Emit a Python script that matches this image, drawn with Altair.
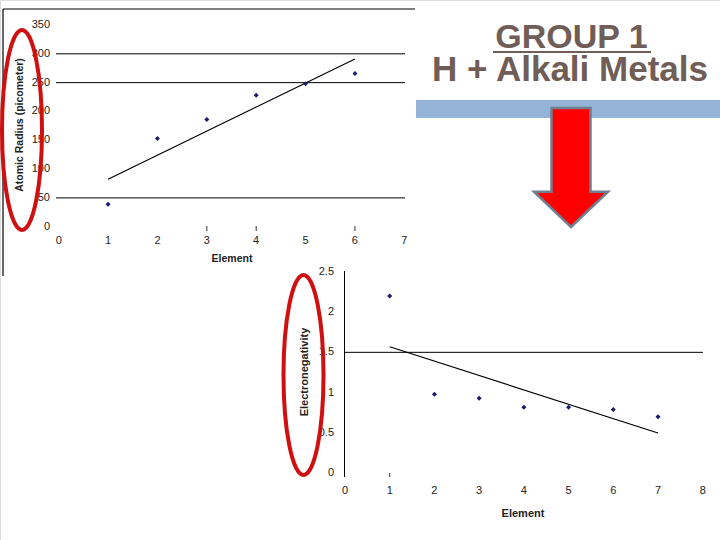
import altair as alt
import pandas as pd

# ---------------- data ----------------
elements_a = [1, 2, 3, 4, 5, 6]
atomic_radius = [39, 153, 186, 228, 248, 266]
radius_ticks = [0, 50, 100, 150, 200, 250, 300, 350]
radius_grid = [50, 250, 300]
element_ticks_a = [0, 1, 2, 3, 4, 5, 6, 7]
element_marks_a = [3, 4, 6]

elements_b = [1, 2, 3, 4, 5, 6, 7]
electronegativity = [2.2, 0.98, 0.93, 0.82, 0.82, 0.79, 0.70]
en_ticks = [0, 0.5, 1, 1.5, 2, 2.5]
en_tick_labels = ["0", "0.5", "1", "1.5", "2", "2.5"]
en_grid = [1.5]
element_ticks_b = [0, 1, 2, 3, 4, 5, 6, 7, 8]
element_marks_b = [1]

title_line1 = "GROUP 1"
title_line2 = "H + Alkali Metals"

FONT = "Liberation Sans"
POINT_COLOR = "#1B1B6B"
TEXT_COLOR = "#222222"
RED = "#D01010"
one = pd.DataFrame({"k": [0]})

# ---------------- chart A: atomic radius ----------------
xa = alt.Scale(domain=[0, 7], range=[58.7, 404.3], nice=False, zero=False)
ya = alt.Scale(domain=[0, 350], range=[226.7, 25], nice=False, zero=False)

df_a = pd.DataFrame({"x": elements_a, "y": atomic_radius})

a_grid = alt.Chart(pd.DataFrame({"v": radius_grid})).mark_rule(color="black", strokeWidth=1).encode(
    y=alt.Y("v:Q", scale=ya, axis=None), x=alt.value(56), x2=alt.value(405))
a_ylab = alt.Chart(pd.DataFrame({"v": radius_ticks})).mark_text(
    align="right", baseline="middle", fontSize=11, font=FONT, color=TEXT_COLOR).encode(
    y=alt.Y("v:Q", scale=ya, axis=None), x=alt.value(50), text="v:Q")
a_xlab = alt.Chart(pd.DataFrame({"v": element_ticks_a})).mark_text(
    align="center", baseline="middle", fontSize=11, font=FONT, color=TEXT_COLOR).encode(
    x=alt.X("v:Q", scale=xa, axis=None), y=alt.value(241), text="v:Q")
a_ticks = alt.Chart(pd.DataFrame({"v": element_marks_a})).mark_rule(color="#333", strokeWidth=1).encode(
    x=alt.X("v:Q", scale=xa, axis=None), y=alt.value(226), y2=alt.value(231))
a_points = alt.Chart(df_a).mark_point(shape="diamond", filled=True, size=25, color=POINT_COLOR, opacity=1).encode(
    x=alt.X("x:Q", scale=xa, axis=None), y=alt.Y("y:Q", scale=ya, axis=None))
a_trend = alt.Chart(df_a).transform_regression("x", "y").mark_line(color="black", strokeWidth=1.2).encode(
    x=alt.X("x:Q", scale=xa, axis=None), y=alt.Y("y:Q", scale=ya, axis=None))
a_xtitle = alt.Chart(one).mark_text(text="Element", fontSize=10.5, fontWeight="bold", font=FONT,
                                    color=TEXT_COLOR, align="center", baseline="middle").encode(
    x=alt.value(232), y=alt.value(259))
a_ytitle = alt.Chart(one).mark_text(text="Atomic Radius (picometer)", fontSize=10.5, fontWeight="bold", font=FONT,
                                    color=TEXT_COLOR, align="center", baseline="middle", angle=270).encode(
    x=alt.value(20), y=alt.value(125))
a_frame_left = alt.Chart(one).mark_rule(color="black", strokeWidth=1.2).encode(
    x=alt.value(3), y=alt.value(9), y2=alt.value(276))
a_frame_top = alt.Chart(one).mark_rule(color="black", strokeWidth=1.2).encode(
    y=alt.value(9), x=alt.value(3), x2=alt.value(415))

chart_a = alt.layer(a_frame_left, a_frame_top, a_grid, a_ticks, a_ylab, a_xlab,
                    a_trend, a_points, a_xtitle, a_ytitle)

# ---------------- chart B: electronegativity ----------------
xb = alt.Scale(domain=[0, 8], range=[345, 702.7], nice=False, zero=False)
yb = alt.Scale(domain=[0, 2.5], range=[473.3, 271.7], nice=False, zero=False)

df_b = pd.DataFrame({"x": elements_b, "y": electronegativity})

b_grid = alt.Chart(pd.DataFrame({"v": en_grid})).mark_rule(color="black", strokeWidth=1).encode(
    y=alt.Y("v:Q", scale=yb, axis=None), x=alt.value(344), x2=alt.value(703))
b_axis = alt.Chart(one).mark_rule(color="black", strokeWidth=1).encode(
    x=alt.value(344.5), y=alt.value(271), y2=alt.value(477))
b_ylab = alt.Chart(pd.DataFrame({"v": en_ticks, "lab": en_tick_labels})).mark_text(
    align="right", baseline="middle", fontSize=11, font=FONT, color=TEXT_COLOR).encode(
    y=alt.Y("v:Q", scale=yb, axis=None), x=alt.value(334), text="lab:N")
b_xlab = alt.Chart(pd.DataFrame({"v": element_ticks_b})).mark_text(
    align="center", baseline="middle", fontSize=11, font=FONT, color=TEXT_COLOR).encode(
    x=alt.X("v:Q", scale=xb, axis=None), y=alt.value(491), text="v:Q")
b_ticks = alt.Chart(pd.DataFrame({"v": element_marks_b})).mark_rule(color="#333", strokeWidth=1).encode(
    x=alt.X("v:Q", scale=xb, axis=None), y=alt.value(473), y2=alt.value(477))
b_points = alt.Chart(df_b).mark_point(shape="diamond", filled=True, size=25, color=POINT_COLOR, opacity=1).encode(
    x=alt.X("x:Q", scale=xb, axis=None), y=alt.Y("y:Q", scale=yb, axis=None))
b_trend = alt.Chart(df_b).transform_regression("x", "y").mark_line(color="black", strokeWidth=1.2).encode(
    x=alt.X("x:Q", scale=xb, axis=None), y=alt.Y("y:Q", scale=yb, axis=None))
b_xtitle = alt.Chart(one).mark_text(text="Element", fontSize=11, fontWeight="bold", font=FONT,
                                    color=TEXT_COLOR, align="center", baseline="middle").encode(
    x=alt.value(523), y=alt.value(514))
b_ytitle = alt.Chart(one).mark_text(text="Electronegativity", fontSize=11, fontWeight="bold", font=FONT,
                                    color=TEXT_COLOR, align="center", baseline="middle", angle=270).encode(
    x=alt.value(305), y=alt.value(372))

chart_b = alt.layer(b_axis, b_grid, b_ticks, b_ylab, b_xlab, b_trend, b_points, b_xtitle, b_ytitle)

# ---------------- decorations ----------------
ellipse = "M-0.2,0 A0.2,1 0 1,0 0.2,0 A0.2,1 0 1,0 -0.2,0 Z"
ell_a = alt.Chart(one).mark_point(shape=ellipse, size=200 * 200, filled=False, stroke=RED,
                                  strokeWidth=4, opacity=1).encode(x=alt.value(22), y=alt.value(130))
ell_b = alt.Chart(one).mark_point(shape=ellipse, size=200 * 200, filled=False, stroke=RED,
                                  strokeWidth=4, opacity=1).encode(x=alt.value(303.5), y=alt.value(375))

title1 = alt.Chart(one).mark_text(text=title_line1, fontSize=34, fontWeight="bold", font=FONT,
                                  color="#705D57", align="center", baseline="alphabetic").encode(
    x=alt.value(571.5), y=alt.value(48))
underline = alt.Chart(one).mark_rule(color="#705D57", strokeWidth=2).encode(
    x=alt.value(493), x2=alt.value(651), y=alt.value(52))
title2 = alt.Chart(one).mark_text(text=title_line2, fontSize=35, fontWeight="bold", font=FONT,
                                  color="#705D57", align="center", baseline="alphabetic").encode(
    x=alt.value(570), y=alt.value(81))
blue_bar = alt.Chart(one).mark_rect(color="#95B3D7").encode(
    x=alt.value(416), x2=alt.value(720), y=alt.value(100), y2=alt.value(118))
arrow = "M-0.328,-1 L0.328,-1 L0.328,0.407 L0.622,0.407 L0,1 L-0.622,0.407 L-0.328,0.407 Z"
arrow_mark = alt.Chart(one).mark_point(shape=arrow, size=119 * 119, filled=True, fill="#FF0000",
                                       stroke="#6E7F91", strokeWidth=2.5, opacity=1, fillOpacity=1).encode(
    x=alt.value(571), y=alt.value(167.5))

deco = alt.layer(blue_bar, arrow_mark, title1, underline, title2, ell_a, ell_b)

chart = alt.layer(chart_a, chart_b, deco).resolve_scale(
    x="independent", y="independent"
).properties(
    width=720, height=540, autosize=alt.AutoSizeParams(type="none"), padding=0
).configure_view(stroke=None).configure(background="white")

chart.save("out.html", embed_options={"renderer": "svg", "actions": False})
